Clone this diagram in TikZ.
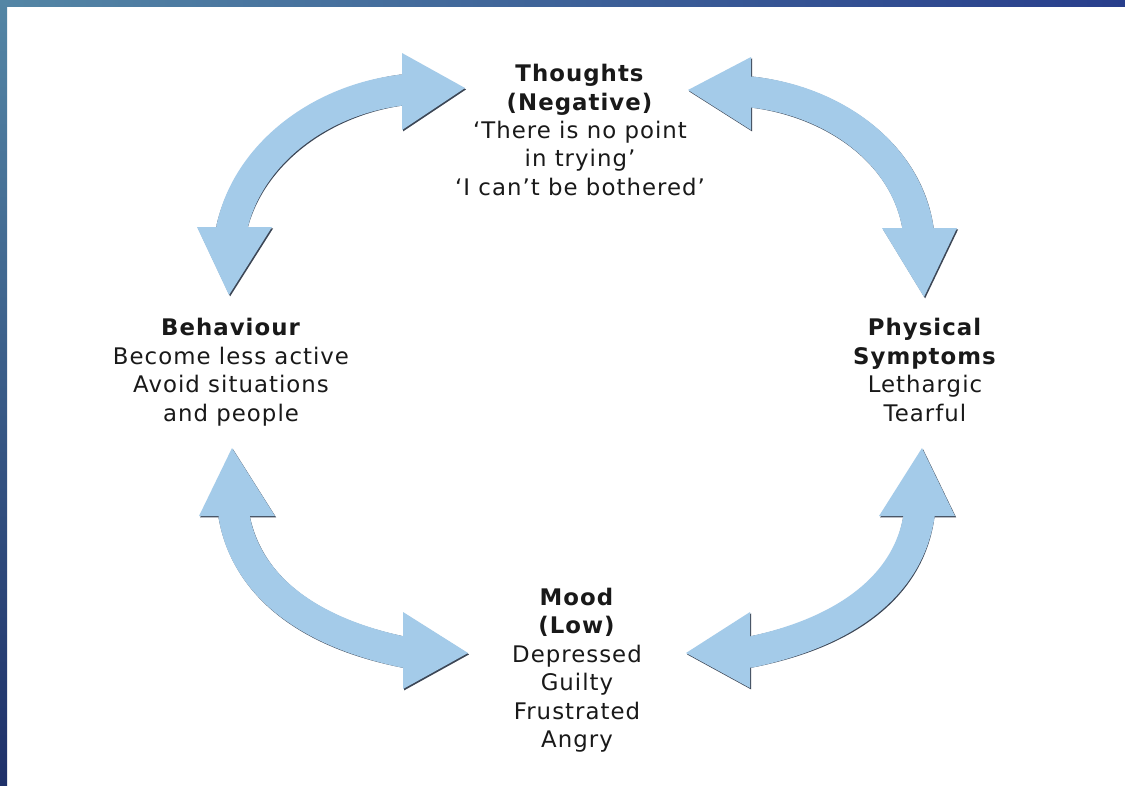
\documentclass[tikz,border=0pt]{standalone}
\usepackage{fontspec}
\setmainfont{DejaVu Sans}[LetterSpace=4.5]
\definecolor{arrowblue}{RGB}{164,203,233}
\definecolor{shadowgray}{RGB}{60,70,85}
\definecolor{txt}{RGB}{25,25,25}
\definecolor{frameA}{RGB}{84,134,165}
\definecolor{frameB}{RGB}{40,62,140}
\definecolor{frameC}{RGB}{30,48,105}
\tikzset{
  shaftfill/.style={line width=0.62cm, draw=arrowblue, line cap=butt},
  shaftshade/.style={line width=0.62cm, draw=shadowgray, line cap=butt},
  headfill/.style={fill=arrowblue},
  headshade/.style={fill=shadowgray},
  lbl/.style={align=center, inner sep=0pt, font=\fontsize{13}{16.2}\selectfont, text=txt}
}
\newcommand\allarrows[2]{%
  % top-left arrow
  \draw[#1] (tlA) -- (tlAs) .. controls (248,155) and (318,100) .. (tlBs) -- (tlB);
  \fill[#2] (197,227) -- (272,227) -- (229,295) -- cycle;
  \fill[#2] (402,53) -- (402,130) -- (465,88) -- cycle;
  % top-right arrow
  \draw[#1] (trA) -- (trAs) .. controls (830,100) and (905,150) .. (trBs) -- (trB);
  \fill[#2] (751,57) -- (751,130) -- (688,90) -- cycle;
  \fill[#2] (882,228) -- (957,228) -- (924,297) -- cycle;
  % bottom-left arrow
  \draw[#1] (blA) -- (blAs) .. controls (245,580) and (300,630) .. (blBs) -- (blB);
  \fill[#2] (199,516) -- (275,516) -- (232,448) -- cycle;
  \fill[#2] (403,612) -- (403,689) -- (468,653) -- cycle;
  % bottom-right arrow
  \draw[#1] (brA) -- (brAs) .. controls (909,580) and (854,630) .. (brBs) -- (brB);
  \fill[#2] (879,516) -- (955,516) -- (922,448) -- cycle;
  \fill[#2] (750,612) -- (750,688) -- (686,653) -- cycle;
}
\begin{document}
\begin{tikzpicture}[x=0.02cm,y=-0.02cm]
\useasboundingbox (0,0) rectangle (1125,785);
\fill[white] (0,0) rectangle (1125,785);
% frame strips
\fill[left color=frameA, right color=frameB] (0,0) rectangle (1125,6);
\fill[top color=frameA, bottom color=frameC] (0,0) rectangle (7,785);
% arrow end coordinates
\coordinate (tlA) at (231,236);  \coordinate (tlAs) at (232,227);
\coordinate (tlBs) at (402,90);  \coordinate (tlB) at (410,90);
\coordinate (trA) at (743,92);   \coordinate (trAs) at (751,92);
\coordinate (trBs) at (918,228); \coordinate (trB) at (918,236);
\coordinate (blA) at (234,508);  \coordinate (blAs) at (234,516);
\coordinate (blBs) at (403,652); \coordinate (blB) at (411,652);
\coordinate (brA) at (919,508);  \coordinate (brAs) at (919,516);
\coordinate (brBs) at (751,652); \coordinate (brB) at (743,652);
% shadow
\begin{scope}[shift={(1.1,1.4)}]
  \allarrows{shaftshade}{headshade}
\end{scope}
\allarrows{shaftfill}{headfill}
% labels
\node[lbl] (th) at (580,130) {\textbf{Thoughts}\\\textbf{(Negative)}\\‘There is no point\\in trying’\\‘I can’t be bothered’};
\node[lbl] (be) at (231,372) {\textbf{Behaviour}\\Become less active\\Avoid situations\\and people};
\node[lbl] (ph) at (925,370) {\textbf{Physical}\\\textbf{Symptoms}\\Lethargic\\Tearful};
\node[lbl] (mo) at (577,670) {\textbf{Mood}\\\textbf{(Low)}\\Depressed\\Guilty\\Frustrated\\Angry};
\end{tikzpicture}
\end{document}
